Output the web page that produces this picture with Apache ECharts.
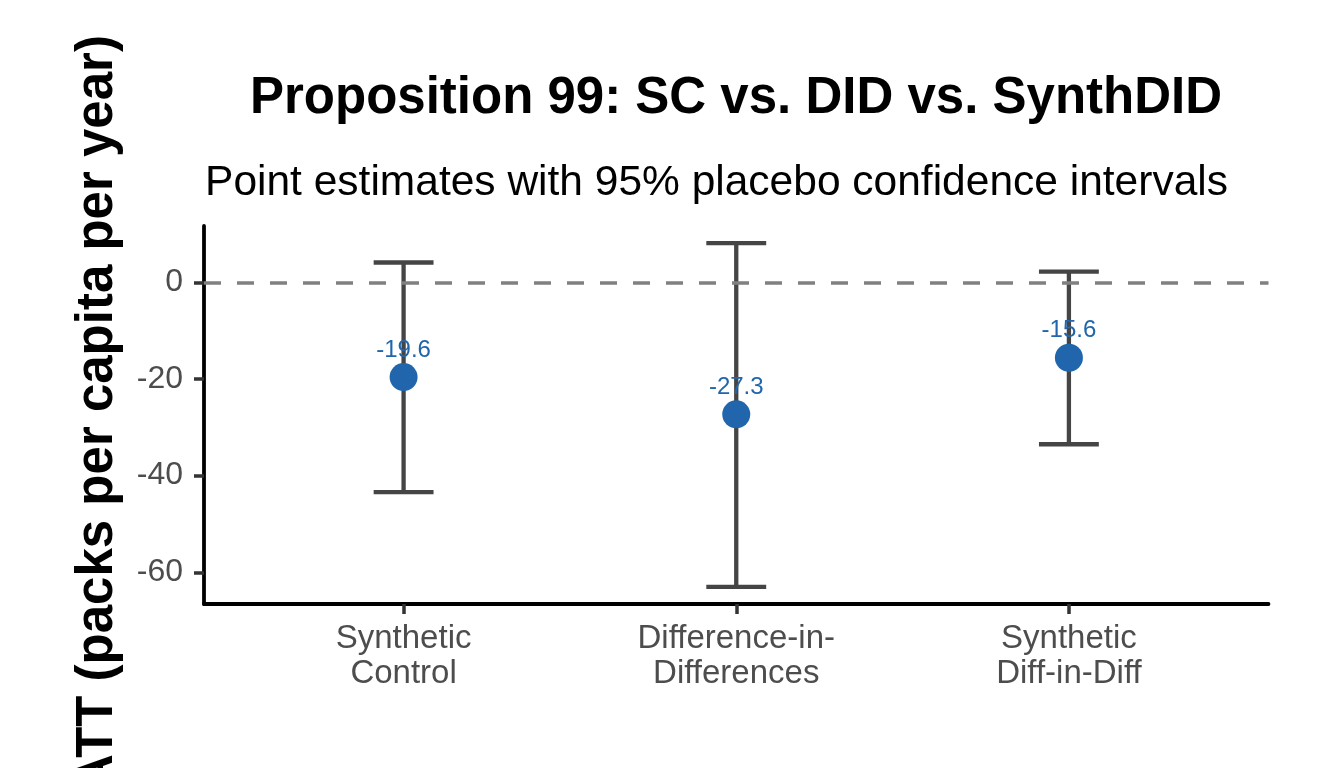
<!DOCTYPE html>
<html>
<head>
<meta charset="utf-8">
<script src="https://cdn.jsdelivr.net/npm/echarts@6/dist/echarts.min.js"></script>
<style>
html,body{margin:0;padding:0;background:#fff;}
#chart{width:1344px;height:768px;}
</style>
</head>
<body>
<div id="chart"></div>
<script>
// ---- data ----
const categories = ['Synthetic\nControl', 'Difference-in-\nDifferences', 'Synthetic\nDiff-in-Diff'];
const estimates = [-19.6, -27.3, -15.6];
const lowerCI = [-43.4, -63.0, -33.5];
const upperCI = [4.1, 8.1, 2.2];
const yTicks = [-60, -40, -20, 0];
const refLine = 0;

const titleText = 'Proposition 99: SC vs. DID vs. SynthDID';
const subtitleText = 'Point estimates with 95% placebo confidence intervals';
const yTitle = 'ATT (packs per capita per year)';

// ---- derived ----
const xPos = categories.map((c, i) => i + 1);
const dataMin = Math.min(...lowerCI), dataMax = Math.max(...upperCI);
const pad = (dataMax - dataMin) * 0.05;
const yMin = dataMin - pad, yMax = dataMax + pad;

const FONT = '"Liberation Sans", Arial, Helvetica, sans-serif';

const chart = echarts.init(document.getElementById('chart'), null, {renderer: 'canvas'});

const option = {
  animation: false,
  backgroundColor: '#ffffff',
  textStyle: {fontFamily: FONT},
  grid: {left: 204, right: 75.5, top: 226, bottom: 164, containLabel: false},
  xAxis: {
    type: 'value',
    min: 0.4,
    max: categories.length + 0.6,
    splitLine: {show: false},
    axisLine: {show: true, onZero: false, lineStyle: {color: '#000', width: 3.8}},
    axisTick: {show: true, length: 10, lineStyle: {color: '#333333', width: 3.5}, customValues: xPos},
    axisLabel: {
      customValues: xPos,
      formatter: v => categories[Math.round(v) - 1] || '',
      fontFamily: FONT, fontSize: 33, lineHeight: 35, color: '#4D4D4D', margin: 17
    }
  },
  yAxis: {
    type: 'value',
    min: yMin,
    max: yMax,
    splitLine: {show: false},
    axisLine: {show: true, onZero: false, lineStyle: {color: '#000', width: 3.8}},
    axisTick: {show: true, length: 10, lineStyle: {color: '#333333', width: 3.5}, customValues: yTicks},
    axisLabel: {customValues: yTicks, fontFamily: FONT, fontSize: 32, color: '#4D4D4D', margin: 21}
  },
  graphic: [
    {type: 'text', x: 736, y: 99, z: 10,
     style: {text: titleText, font: 'bold 51px ' + FONT, fill: '#000', textAlign: 'center', textVerticalAlign: 'middle'}},
    {type: 'text', x: 716.5, y: 183, z: 10,
     style: {text: subtitleText, font: '42.5px ' + FONT, fill: '#000', textAlign: 'center', textVerticalAlign: 'middle'}},
    {type: 'text', x: 98, y: 413, rotation: Math.PI / 2, z: 10,
     style: {text: yTitle, font: 'bold 51px ' + FONT, fill: '#000', textAlign: 'center', textVerticalAlign: 'middle'}}
  ],
  series: [
    {
      type: 'line', data: [], z: 1,
      markLine: {
        silent: true, symbol: 'none', animation: false,
        label: {show: false},
        lineStyle: {color: '#808080', width: 3.5, type: [17, 16]},
        data: [{yAxis: refLine}]
      }
    },
    {
      type: 'custom', z: 2,
      data: xPos.map((x, i) => [x, lowerCI[i], upperCI[i]]),
      renderItem: function (params, api) {
        const x = api.value(0), lo = api.value(1), hi = api.value(2);
        const pLo = api.coord([x, lo]);
        const pHi = api.coord([x, hi]);
        const half = api.size([0.09, 0])[0];
        const st = {stroke: '#454545', lineWidth: 4.3, fill: null};
        return {
          type: 'group',
          children: [
            {type: 'line', shape: {x1: pLo[0], y1: pLo[1], x2: pHi[0], y2: pHi[1]}, style: st},
            {type: 'line', shape: {x1: pLo[0] - half, y1: pLo[1], x2: pLo[0] + half, y2: pLo[1]}, style: st},
            {type: 'line', shape: {x1: pHi[0] - half, y1: pHi[1], x2: pHi[0] + half, y2: pHi[1]}, style: st}
          ]
        };
      }
    },
    {
      type: 'scatter', z: 3,
      symbol: 'circle', symbolSize: 28,
      itemStyle: {color: '#2166AC', opacity: 1},
      data: xPos.map((x, i) => [x, estimates[i]]),
      label: {
        show: true, position: 'top', distance: 1,
        formatter: p => p.value[1].toFixed(1),
        color: '#2166AC', fontFamily: FONT, fontSize: 24
      }
    }
  ]
};
chart.setOption(option);
</script>
</body>
</html>
